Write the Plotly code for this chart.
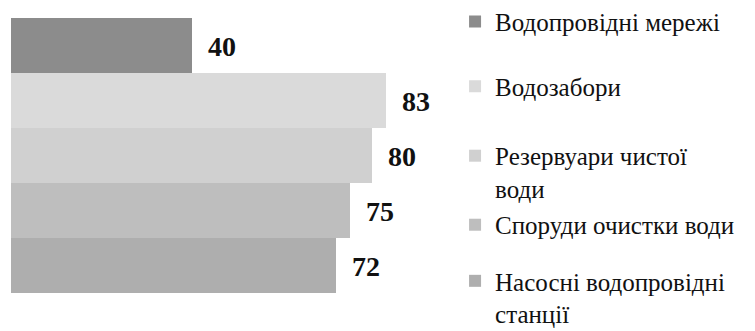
import plotly.graph_objects as go

# Categories (top to bottom) and values
categories = ['Водопровідні мережі', 'Водозабори', 'Резервуари чистої води',
              'Споруди очистки води', 'Насосні водопровідні станції']
legend_names = ['Водопровідні мережі', 'Водозабори', 'Резервуари чистої<br>води',
                'Споруди очистки води', 'Насосні водопровідні<br>станції']
values = [40, 83, 80, 75, 72]
colors = ['#8c8c8c', '#dadada', '#d0d0d0', '#bebebe', '#aeaeae']

SERIF = 'Liberation Serif, Times New Roman, serif'

# legend slots (paper y of each legend box top)
legend_y = [1.07, 0.835, 0.582, 0.331, 0.127]

fig = go.Figure()

for i, (cat, name, val, col) in enumerate(zip(categories, legend_names, values, colors)):
    lg = 'legend' if i == 0 else f'legend{i + 1}'
    fig.add_trace(go.Bar(
        y=[cat], x=[val], name=name, orientation='h',
        marker=dict(color=col, line=dict(width=0)),
        legend=lg,
        hoverinfo='x+name',
    ))
    fig.add_annotation(
        x=val, y=cat, text=f'<b>{val}</b>', showarrow=False,
        xanchor='left', xshift=14, yshift=-1,
        font=dict(family=SERIF, size=28, color='#111111'),
    )
    fig.update_layout({lg: dict(
        x=0.989, y=legend_y[i], xanchor='left', yanchor='top',
        valign='top',
        font=dict(family=SERIF, size=25, color='#111111'),
        bgcolor='rgba(0,0,0,0)',
    )})

# body has an 8px margin in the page, so the figure is shrunk to match
fig.update_layout(
    width=747, height=323,
    margin=dict(l=3, r=295, t=10, b=38, autoexpand=False),
    plot_bgcolor='white', paper_bgcolor='white',
    barmode='overlay', bargap=0,
    font=dict(family=SERIF, size=25, color='#111111'),
    xaxis=dict(range=[0, 99.4], visible=False),
    yaxis=dict(visible=False, categoryorder='array', categoryarray=categories[::-1]),
    showlegend=True,
)

fig.write_html('out.html')
